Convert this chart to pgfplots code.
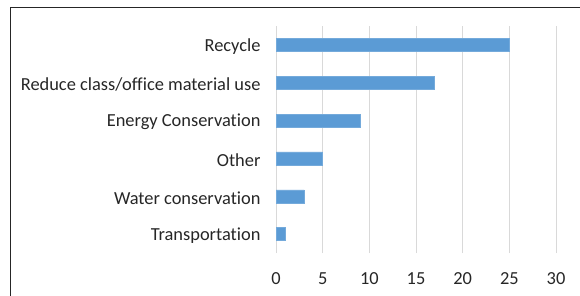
\documentclass[border=0pt]{standalone}
\usepackage{pgfplots}
\pgfplotsset{compat=1.18}
\usepackage{fontspec}
\setmainfont[Ligatures=NoCommon]{Carlito}
\definecolor{barblue}{HTML}{5B9BD5}
\definecolor{gridgray}{HTML}{D9D9D9}
\begin{document}
\begin{tikzpicture}[x=1pt,y=1pt]
\path[use as bounding box] (0,0) rectangle (580,295);
\clip (0,0) rectangle (580,295);
\draw[black!85, line width=1pt] (10,-20) -- (10,287) -- (600,287);
\begin{axis}[
  at={(276pt,42pt)}, anchor=south west,
  scale only axis, width=280pt, height=227pt,
  xmin=0, xmax=30, ymin=-0.5, ymax=5.5,
  xbar, bar width=13pt,
  axis line style={draw=none},
  major tick length=0pt,
  xmajorgrids, grid style={gridgray, line width=0.9pt},
  xtick={0,5,...,30},
  ytick={0,...,5},
  yticklabels={Transportation, Water conservation, Other, Energy Conservation, Reduce class/office material use, Recycle},
  tick label style={font=\fontsize{18.4}{21}\selectfont, text=black!85},
  /pgf/number format/assume math mode=true,
  xticklabel style={yshift=-16pt},
  yticklabel style={xshift=-12pt, yshift=-1.5pt},
]
\addplot[fill=barblue, draw=barblue!85!white] coordinates {(1,0) (3,1) (5,2) (9,3) (17,4) (25,5)};
\end{axis}
\end{tikzpicture}
\end{document}
